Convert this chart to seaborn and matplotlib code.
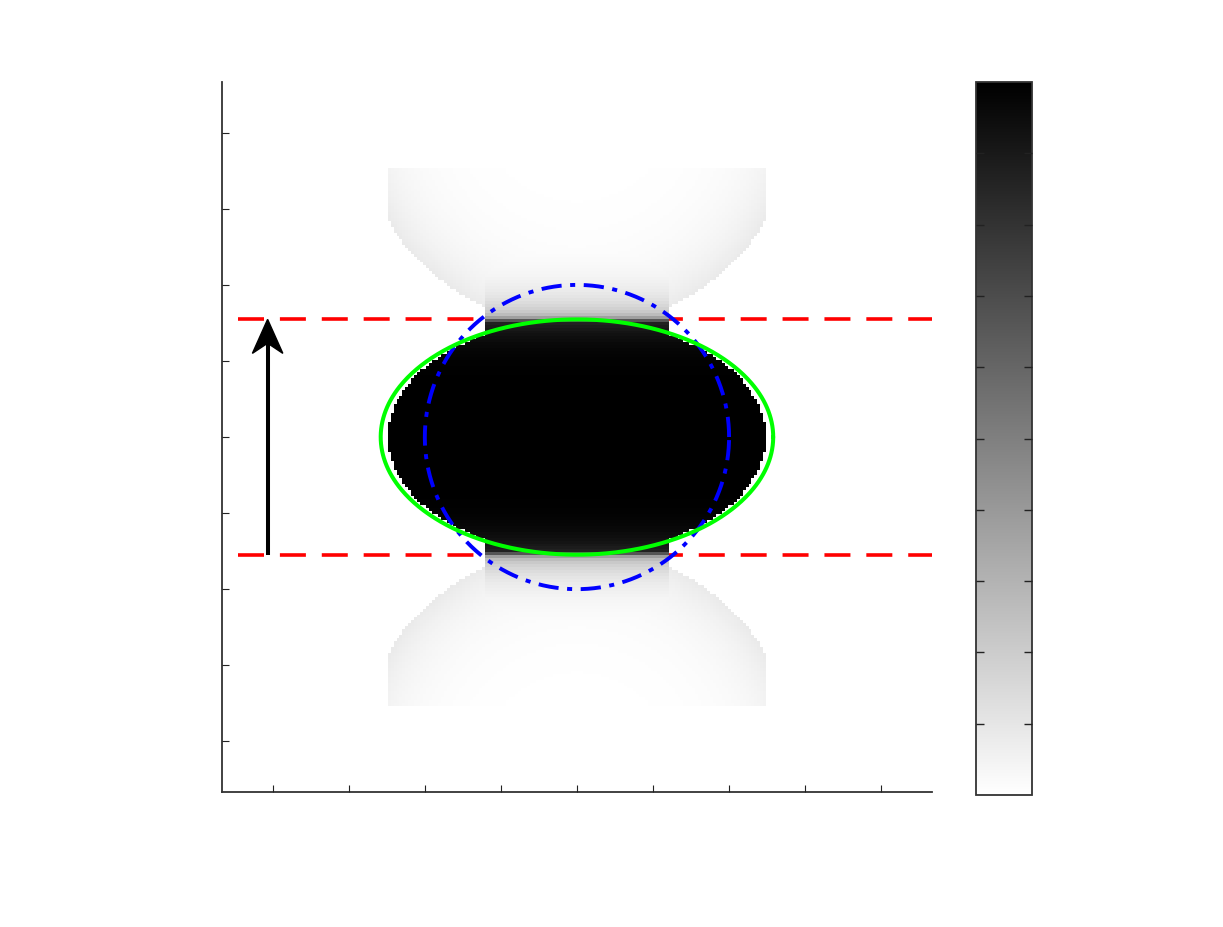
import numpy as np
import matplotlib
matplotlib.use("Agg")
import matplotlib.pyplot as plt
from matplotlib.transforms import Affine2D
from matplotlib.patches import Polygon
import seaborn as sns

# --- values (physical units, one tick = 1.5) ---
axis_lim = 7.0
tick_values = [-6.0, -4.5, -3.0, -1.5, 0.0, 1.5, 3.0, 4.5, 6.0]
cbar_ticks = [0.1, 0.2, 0.3, 0.4, 0.5, 0.6, 0.7, 0.8, 0.9]

# dark core + neck + faint wings of the intensity map
core_a, core_b = 3.73, 2.30
core_edge_level = 0.85
neck_half_width = 1.78
neck_levels = [0.40, 0.30]
neck_decay = [0.05, 0.45]
wing_half_width = 3.75
wing_top = 5.3
wing_center_y = 6.53      # wings are discs centred above / below
wing_radius = 4.36
wing_level = 0.085
wing_decay = 0.8

# overlays
green_a, green_b = 3.87, 2.32
blue_r = 3.0
band_y = [-2.32, 2.32]
band_x = [-6.69, 7.0]
arrow_x = -6.1
arrow_y = [-2.32, 2.32]

N = 240


def build_field():
    step = 2 * axis_lim / N
    xs = -axis_lim + (np.arange(N) + 0.5) * step
    ys = axis_lim - (np.arange(N) + 0.5) * step   # row 0 is the top
    X, Y = np.meshgrid(xs, ys)
    T = np.abs(Y)

    core = (X / core_a) ** 2 + (Y / core_b) ** 2 <= 1
    neck = (np.abs(X) < neck_half_width) & (T <= wing_top)
    prof = np.where(
        T <= core_b,
        1 - (1 - core_edge_level) * (np.minimum(T, core_b) / core_b) ** 6,
        neck_levels[0] * np.exp(-(T - core_b) / neck_decay[0])
        + neck_levels[1] * np.exp(-(T - core_b) / neck_decay[1]),
    )
    field = np.full_like(X, np.nan)   # no data -> transparent
    field[core | neck] = prof[core | neck]

    d = np.sqrt(X ** 2 + (T - wing_center_y) ** 2)
    wing = ((np.abs(X) <= wing_half_width) & (T <= wing_top)
            & (d <= wing_radius) & ~core)
    wval = wing_level * np.exp(-(wing_radius - d) / wing_decay)
    field[wing] = np.fmax(field[wing], wval[wing])
    return field


sns.set_theme(style="white")
plt.rcParams["axes.axisbelow"] = False
fig = plt.figure(figsize=(12.23, 9.27), dpi=100)
ax = fig.add_axes([0.1815, 0.1456, 0.5805, 0.7659])
cax = fig.add_axes([0.798, 0.1424, 0.0458, 0.769])

field = build_field()
sns.heatmap(field, ax=ax, cmap="gray_r", vmin=0, vmax=1, cbar_ax=cax,
            cbar_kws={"ticks": cbar_ticks}, xticklabels=False, yticklabels=False)
ax.set_axisbelow(False)
cax.set_axisbelow(False)

# physical coords -> heatmap cell coords
scale = N / (2 * axis_lim)
trans = Affine2D().scale(scale, -scale).translate(N / 2, N / 2) + ax.transData

ax.set_xticks([(v + axis_lim) * scale for v in tick_values])
ax.set_yticks([(axis_lim - v) * scale for v in tick_values])
ax.tick_params(direction="in", length=5, width=0.8, color="#222222",
               bottom=True, left=True, labelbottom=False, labelleft=False)
for side in ["left", "bottom"]:
    ax.spines[side].set_visible(True)
    ax.spines[side].set_linewidth(1.3)
    ax.spines[side].set_color("#333333")
for side in ["top", "right"]:
    ax.spines[side].set_visible(False)

theta = np.linspace(0, 2 * np.pi, 600)

# red band limits (drawn under the map, like the original)
for yb in band_y:
    ax.plot(band_x, [yb, yb], color="red", lw=2.6, dashes=(7.2, 4.4),
            transform=trans, clip_on=False, zorder=0.5)

# blue dash-dot circle
ax.plot(blue_r * np.cos(theta), blue_r * np.sin(theta), color="blue", lw=2.8,
        dashes=(5.2, 2.2, 1.3, 2.2), transform=trans, zorder=3)

# green ellipse
ax.plot(green_a * np.cos(theta), green_b * np.sin(theta), color="#00ff00",
        lw=2.9, transform=trans, zorder=3)

# black arrow with notched head
head_len, head_half, notch = 0.67, 0.30, 0.47
ax.plot([arrow_x, arrow_x], [arrow_y[0], arrow_y[1] - notch], color="black",
        lw=2.9, solid_capstyle="butt", transform=trans, zorder=3)
tip = arrow_y[1]
head = Polygon([[arrow_x, tip],
                [arrow_x - head_half, tip - head_len],
                [arrow_x, tip - notch],
                [arrow_x + head_half, tip - head_len]],
               closed=True, facecolor="black", edgecolor="black", lw=1,
               transform=trans, zorder=3)
ax.add_patch(head)

ax.set_xlim(0, N)
ax.set_ylim(N, 0)

# colorbar styling
cb = ax.collections[0].colorbar
cb.outline.set_linewidth(1.3)
cb.outline.set_edgecolor("#333333")
cax.tick_params(direction="in", length=6, width=1, color="#222222",
                left=True, right=True, labelleft=False, labelright=False)

fig.savefig("out.png", dpi=100, facecolor="white")
